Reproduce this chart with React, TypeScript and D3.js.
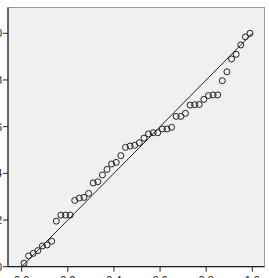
import React from "react";
import * as d3 from "d3";

const observedCumProb = [
  0.01, 0.03, 0.05, 0.07, 0.09, 0.11, 0.13, 0.15, 0.17, 0.19,
  0.21, 0.23, 0.25, 0.27, 0.29, 0.31, 0.33, 0.35, 0.37, 0.39,
  0.41, 0.43, 0.45, 0.47, 0.49, 0.51, 0.53, 0.55, 0.57, 0.59,
  0.61, 0.63, 0.65, 0.67, 0.69, 0.71, 0.73, 0.75, 0.77, 0.79,
  0.81, 0.83, 0.85, 0.87, 0.89, 0.91, 0.93, 0.95, 0.97, 0.99,
];

const expectedCumProb = [
  0.015, 0.046, 0.057, 0.069, 0.089, 0.093, 0.109, 0.195, 0.221, 0.221,
  0.221, 0.284, 0.294, 0.297, 0.314, 0.359, 0.364, 0.393, 0.417, 0.44,
  0.447, 0.476, 0.511, 0.517, 0.52, 0.531, 0.551, 0.569, 0.574, 0.574,
  0.59, 0.59, 0.597, 0.644, 0.644, 0.657, 0.692, 0.694, 0.695, 0.717,
  0.733, 0.736, 0.736, 0.797, 0.835, 0.89, 0.91, 0.95, 0.985, 1.0,
];

const tickValues = [0, 0.2, 0.4, 0.6, 0.8, 1.0];
const tickLabels = ["0.0", "0.2", "0.4", "0.6", "0.8", "1.0"];

export default function App() {
  const W = 269;
  const H = 278;
  const x = d3.scaleLinear().domain([0, 1]).range([21.7, 252.3]);
  const y = d3.scaleLinear().domain([0, 1]).range([266.7, 33.3]);
  const left = 8;
  const top = 7.5;
  const right = 264.5;
  const bottom = 266.7;
  const diag = d3.line<number>().x((d) => x(d)).y((d) => y(d));

  return (
    <svg
      width={W}
      height={H}
      style={{ position: "absolute", left: 0, top: 0, background: "#fff" }}
      fontFamily="Arial, 'Liberation Sans', sans-serif"
    >
      <rect
        x={left}
        y={top}
        width={right - left}
        height={bottom - top}
        fill="#f0f0f0"
        stroke="#9a9a9a"
        strokeWidth={1}
      />
      <path d={diag([0, 1]) || ""} stroke="#222" strokeWidth={1} fill="none" />
      {observedCumProb.map((v, i) => (
        <circle
          key={i}
          cx={x(v)}
          cy={y(expectedCumProb[i])}
          r={3}
          fill="none"
          stroke="#222"
          strokeWidth={1}
        />
      ))}
      <line x1={left} x2={left} y1={top} y2={bottom} stroke="#222" strokeWidth={1.2} />
      <line x1={left} x2={right} y1={bottom} y2={bottom} stroke="#222" strokeWidth={1.2} />
      {tickValues.map((t, i) => (
        <g key={"y" + i}>
          <line x1={left - 5} x2={left} y1={y(t)} y2={y(t)} stroke="#222" strokeWidth={1} />
          <text x={2} y={y(t)} dy="0.35em" textAnchor="end" fontSize={11} fill="#222">
            {tickLabels[i]}
          </text>
        </g>
      ))}
      {tickValues.map((t, i) => (
        <g key={"x" + i}>
          <line x1={x(t)} x2={x(t)} y1={bottom} y2={bottom + 5} stroke="#222" strokeWidth={1} />
          <text x={x(t)} y={284} textAnchor="middle" fontSize={11} fill="#222">
            {tickLabels[i]}
          </text>
        </g>
      ))}
    </svg>
  );
}
